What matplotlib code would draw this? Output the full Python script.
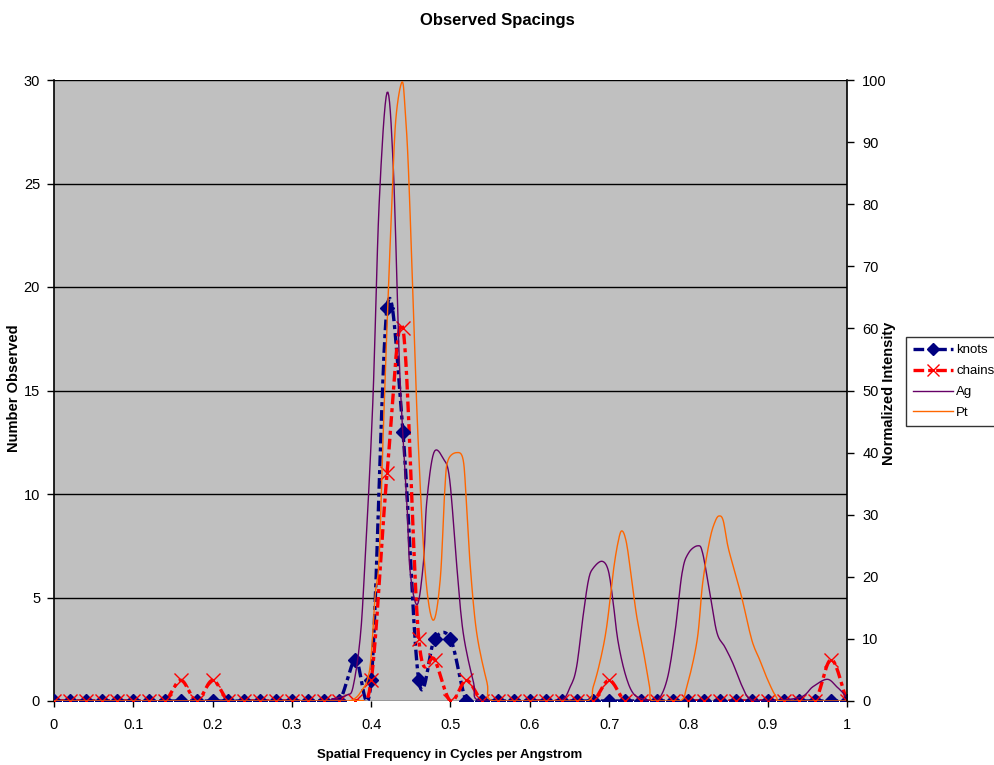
import numpy as np
import matplotlib
matplotlib.use("Agg")
import matplotlib.pyplot as plt
from matplotlib import font_manager
from matplotlib.lines import Line2D

# ---------------- data ----------------
freq = [round(0.02 * i, 2) for i in range(51)]

knots = [0, 0, 0, 0, 0, 0, 0, 0, 0, 0,
         0, 0, 0, 0, 0, 0, 0, 0, 0, 2,
         1, 19, 13, 1, 3, 3, 0, 0, 0, 0,
         0, 0, 0, 0, 0, 0, 0, 0, 0, 0,
         0, 0, 0, 0, 0, 0, 0, 0, 0, 0,
         0]

chains = [0, 0, 0, 0, 0, 0, 0, 0, 1, 0,
          1, 0, 0, 0, 0, 0, 0, 0, 0, 0,
          1, 11, 18, 3, 2, 0, 1, 0, 0, 0,
          0, 0, 0, 0, 0, 1, 0, 0, 0, 0,
          0, 0, 0, 0, 0, 0, 0, 0, 0, 2,
          0]

ag_x = [0.0, 0.34, 0.35, 0.36, 0.37, 0.377, 0.386, 0.392, 0.402, 0.41, 0.42,
        0.428, 0.436, 0.445, 0.449, 0.458, 0.466, 0.470, 0.479, 0.491, 0.499,
        0.508, 0.516, 0.529, 0.537, 0.60, 0.638, 0.651, 0.659, 0.667, 0.674,
        0.680, 0.691, 0.699, 0.705, 0.711, 0.720, 0.730, 0.743, 0.76, 0.773,
        0.783, 0.792, 0.800, 0.812, 0.818, 0.827, 0.836, 0.846, 0.856, 0.868,
        0.878, 0.90, 0.941, 0.957, 0.975, 0.987, 0.995, 1.0]
ag_y = [0, 0, 0.3, 0.6, 1.0, 2.2, 10, 22, 48, 80, 98,
        85.5, 53, 32, 21, 15.5, 22.5, 32, 40, 39, 35.6,
        21.6, 11, 3, 0, 0, 0, 2.3, 5.5, 13.5, 19.5,
        21.4, 22.5, 21, 16, 9.8, 4.5, 1.3, 0.3, 0, 3.4,
        11, 20.6, 23.8, 25, 23.8, 17.4, 11, 8.7, 6.1, 2.3,
        0.3, 0, 0.6, 2.3, 3.5, 2.3, 1.3, 0.5]

pt_x = [0.0, 0.36, 0.373, 0.386, 0.398, 0.405, 0.41, 0.415, 0.421, 0.426,
        0.431, 0.439, 0.443, 0.447, 0.453, 0.459, 0.468, 0.478, 0.487, 0.493,
        0.497, 0.508, 0.516, 0.520, 0.525, 0.533, 0.546, 0.554, 0.62, 0.672,
        0.680, 0.689, 0.697, 0.705, 0.711, 0.716, 0.722, 0.729, 0.735, 0.743,
        0.751, 0.755, 0.789, 0.798, 0.811, 0.818, 0.827, 0.834, 0.839, 0.844,
        0.850, 0.859, 0.868, 0.880, 0.890, 0.900, 0.911, 0.92, 1.0]
pt_y = [0, 0, 0, 1.3, 5, 17, 23, 42.5, 64, 80,
        93.6, 99.7, 94.7, 85.5, 64, 42.5, 21, 13, 19.5, 34.5,
        38.8, 40, 38.8, 32, 21.6, 11, 3, 0, 0, 0,
        2.3, 6.6, 12, 20.6, 25.4, 27.4, 25.4, 19, 13.5, 8.2,
        2.3, 0, 0, 2.3, 9.8, 19, 26, 29, 29.8, 29,
        24.8, 20.6, 16.3, 9.8, 6.6, 3.4, 0.6, 0, 0]

x_ticks = [0, 0.1, 0.2, 0.3, 0.4, 0.5, 0.6, 0.7, 0.8, 0.9, 1]
x_tick_labels = ["0", "0.1", "0.2", "0.3", "0.4", "0.5", "0.6", "0.7", "0.8", "0.9", "1"]


def smooth(x, y, n=16):
    """Catmull-Rom curve through the points (parametrised by point index)."""
    x = np.asarray(x, float)
    y = np.asarray(y, float)
    px = np.concatenate([[2 * x[0] - x[1]], x, [2 * x[-1] - x[-2]]])
    py = np.concatenate([[2 * y[0] - y[1]], y, [2 * y[-1] - y[-2]]])
    t = np.linspace(0, 1, n, endpoint=False)
    out_x, out_y = [], []
    for i in range(1, len(px) - 2):
        for p, out in ((px, out_x), (py, out_y)):
            p0, p1, p2, p3 = p[i - 1], p[i], p[i + 1], p[i + 2]
            out.append(0.5 * ((2 * p1) + (-p0 + p2) * t
                              + (2 * p0 - 5 * p1 + 4 * p2 - p3) * t ** 2
                              + (-p0 + 3 * p1 - 3 * p2 + p3) * t ** 3))
    out_x.append([x[-1]])
    out_y.append([y[-1]])
    return np.concatenate(out_x), np.concatenate(out_y)


# ---------------- fonts ----------------
available = {f.name for f in font_manager.fontManager.ttflist}
body_font = "Liberation Sans" if "Liberation Sans" in available else "DejaVu Sans"
head_font = "Liberation Sans Narrow" if "Liberation Sans Narrow" in available else body_font
plt.rcParams["font.family"] = [body_font, "DejaVu Sans"]

navy = "#000080"
red = "#FF0000"
purple = "#660066"
orange = "#FF6600"

fig = plt.figure(figsize=(9.95, 7.65), dpi=100)
fig.patch.set_facecolor("white")
ax = fig.add_axes([54 / 995, 1 - 701 / 765, (847 - 54) / 995, (701 - 80) / 765])
ax.set_facecolor("#C0C0C0")
ax2 = ax.twinx()

# counts (primary axis)
kx, ky = smooth(freq, knots)
cx, cy = smooth(freq, chains)
knot_style = (0, (3.2, 1.2, 1.2, 1.2))
ax.plot(kx, ky, color=navy, lw=2.4, linestyle=knot_style, zorder=3)
ax.plot(freq, knots, linestyle="none", marker="D", ms=7.5, color=navy, zorder=4)
ax.plot(cx, cy, color=red, lw=2.4, linestyle=knot_style, zorder=3)
ax.plot(freq, chains, linestyle="none", marker="x", ms=9.5, mew=1.0, color=red, zorder=5)

# intensities (secondary axis)
ax_, ay_ = smooth(ag_x, ag_y, 8)
px_, py_ = smooth(pt_x, pt_y, 8)
ax2.plot(ax_, np.clip(ay_, 0, None), color=purple, lw=1.0)
ax2.plot(px_, np.clip(py_, 0, None), color=orange, lw=1.0)

ax.set_xlim(0, 1)
ax.set_ylim(0, 30)
ax2.set_ylim(0, 100)
ax.set_xticks(x_ticks)
ax.set_xticklabels(x_tick_labels)
ax.set_yticks(range(0, 31, 5))
ax2.set_yticks(range(0, 101, 10))
ax.yaxis.grid(True, color="black", lw=1.0)
ax.set_axisbelow(True)

for a in (ax, ax2):
    for s in a.spines.values():
        s.set_visible(False)
ax.spines["left"].set_visible(True)
ax.spines["left"].set_color("black")
ax2.spines["right"].set_visible(True)
ax2.spines["right"].set_color("black")
ax.spines["left"].set_linewidth(1.2)
ax2.spines["right"].set_linewidth(1.2)

ax.tick_params(axis="both", direction="out", length=5, width=1, labelsize=10.5,
               color="black", pad=5)
ax.tick_params(axis="x", length=4, pad=8)
ax2.tick_params(axis="y", direction="out", length=5, width=1, labelsize=10.5, pad=6)

head = dict(family=[head_font, "DejaVu Sans"], weight="bold")
fig.text(0.5, 1 - 20 / 765, "Observed Spacings", ha="center", va="center",
         fontsize=12, **head)
fig.text(450 / 995, 1 - 755 / 765, "Spatial Frequency in Cycles per Angstrom",
         ha="center", va="center", fontsize=9.5, **head)
fig.text(14 / 995, 1 - 388 / 765, "Number Observed", ha="center", va="center",
         rotation=90, fontsize=10.5, **head)
fig.text(889 / 995, 1 - 393 / 765, "Normalized Intensity", ha="center", va="center",
         rotation=90, fontsize=10.5, **head)

handles = [
    Line2D([], [], color=navy, lw=2.4, linestyle=knot_style, marker="D", ms=6.5),
    Line2D([], [], color=red, lw=2.4, linestyle=knot_style, marker="x", ms=8, mew=1.0),
    Line2D([], [], color=purple, lw=1.0),
    Line2D([], [], color=orange, lw=1.0),
]
leg = fig.legend(handles, ["knots", "chains", "Ag", "Pt"],
                 loc="upper left", bbox_to_anchor=(906 / 995, 1 - 337 / 765),
                 frameon=True, fancybox=False, edgecolor="black", fontsize=9.5,
                 handlelength=3.0, handletextpad=0.25, borderpad=0.55,
                 borderaxespad=0, labelspacing=0.65)
leg.get_frame().set_linewidth(1.0)

fig.savefig("out.png", dpi=100, facecolor="white")
